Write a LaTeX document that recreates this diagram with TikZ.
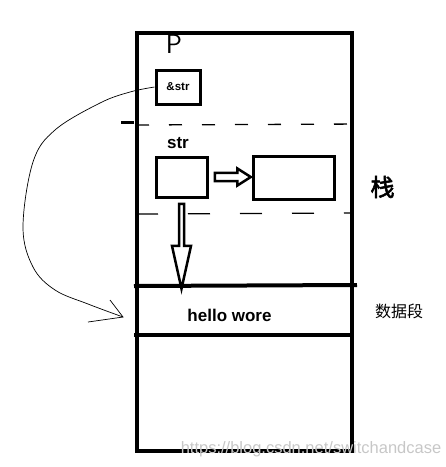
\documentclass[tikz,border=0pt]{standalone}
\usepackage{fontspec}
\setmainfont{Liberation Sans}
\newfontfamily\cjk{Noto Sans CJK SC}
\usetikzlibrary{shapes.arrows,arrows.meta}
\tikzset{
  box/.style={draw,line width=3pt,inner sep=0pt,anchor=north west},
  hollow/.style={single arrow,draw,line width=2.5pt,inner sep=0pt},
  thickline/.style={line width=4pt},
  dashline/.style={line width=1.3pt},
  lbl/.style={inner sep=0pt,font=\bfseries\fontsize{17}{19}\selectfont}
}
\begin{document}
\begin{tikzpicture}[x=1pt,y=-1pt]
\useasboundingbox (0,0) rectangle (446,467);
% outer memory frame
\node[draw,thickline,inner sep=0pt,anchor=north west,minimum width=215pt,minimum height=418pt] (mem) at (134.5,30.5) {};
% separators
\coordinate (d1b) at (365,124);
\draw[line width=3pt] (121,122) -- (134,122);
\draw[dashline,dash pattern=on 13pt off 20pt] (136,125) -- (d1b);
\draw[dashline,dash pattern=on 22pt off 30pt] (136,214) -- (352,213);
\draw[thickline] (134,286) -- (357,285);
\draw[thickline] (134,334.5) -- (349.5,334.5);
% boxes
\node[box,minimum width=44pt,minimum height=34pt] (pstr) at (154.5,68.5) {};
\node[inner sep=0pt,font=\bfseries\fontsize{11.5}{13}\selectfont] (pstrlbl) at (pstr.center) {\&str};
\node[inner sep=0pt,font=\sffamily\fontsize{27}{29}\selectfont] (plabel) at (174,44) {P};
\node[box,minimum width=51pt,minimum height=40pt] (str) at (154.5,155.5) {};
\node[lbl,anchor=south] (strlbl) at (178,149) {str};
\node[box,minimum width=81pt,minimum height=43pt] (heap) at (251.5,154.5) {};
% hollow arrows
\node[hollow,minimum height=36pt,minimum width=17pt,single arrow head extend=4pt,single arrow tip angle=65,inner ysep=2.5pt,anchor=tail] (ar1) at ([xshift=5pt]str.east) {};
\node[hollow,minimum height=85pt,minimum width=19pt,single arrow head extend=3.5pt,single arrow tip angle=25,inner ysep=3.5pt,shape border rotate=270,anchor=tail] (ar2) at ([yshift=-4pt]str.south) {};
% labels
\node[lbl] (hello) at (229.5,315) {hello wore};
\node[inner sep=0pt,font=\cjk\fontsize{24}{26}\selectfont\addfontfeatures{FakeBold=2.5}] (zhan) at (382.5,187) {栈};
\node[inner sep=0pt,font=\cjk\fontsize{16}{18}\selectfont] (data) at (399,311) {数据段};
\node[inner sep=0pt,font=\fontsize{16.5}{18}\selectfont,text=black!22] (wm) at (311,449) {https://blog.csdn.net/switchandcase};
% curved pointer
\coordinate (tip) at (123,317);
\draw[line width=0.7pt] plot[smooth,tension=0.6] coordinates {(pstr.west) (130,92) (100,103) (55,130) (33,162) (23,227) (33,267) (55,290) (88,304) (tip)};
\draw[line width=0.7pt] (110,300) -- (tip) -- (88,322);
\end{tikzpicture}
\end{document}
